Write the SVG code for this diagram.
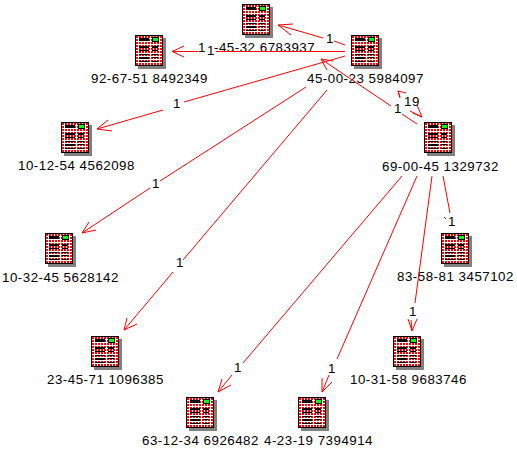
<svg xmlns="http://www.w3.org/2000/svg" width="517" height="450" viewBox="0 0 517 450">
<style>
text{font-family:"Liberation Sans",Arial,sans-serif;font-size:13.33px;letter-spacing:.5px;fill:#000}
.e{fill:none;stroke:#f00;stroke-width:1}
.da{fill:none;stroke:#f00;stroke-width:2;stroke-dasharray:2 1;shape-rendering:crispEdges}
</style>
<defs>
<g id="icon">
<rect x="3" y="3" width="28" height="31" fill="#808080"/>
<rect x="0" y="0" width="28" height="31" fill="#000"/>
<rect x="1" y="1" width="26" height="29" fill="#fff"/>
<path class="da" d="M1 2H27M1 5H27M1 8H27M1 11H27M1 14H27M1 17H27M1 20H27M1 23H27M1 26H27M1 29H27"/>
<rect x="4" y="3" width="10" height="3" fill="#000"/>
<rect x="17" y="2" width="7" height="5" fill="#000"/>
<rect x="18" y="3" width="5" height="3" fill="#0f0"/>
<rect x="4" y="11" width="10" height="2" fill="#000"/><rect x="17" y="11" width="6" height="2" fill="#000"/>
<rect x="4" y="15" width="10" height="1" fill="#000"/><rect x="17" y="15" width="6" height="1" fill="#000"/>
<rect x="4" y="19" width="10" height="1" fill="#000"/><rect x="17" y="19" width="6" height="1" fill="#000"/>
<rect x="4" y="22" width="10" height="2" fill="#000"/><rect x="17" y="22" width="6" height="1" fill="#000"/>
<rect x="4" y="26" width="10" height="1" fill="#000"/><rect x="17" y="26" width="6" height="1" fill="#000"/>
</g>
</defs>
<g id="node-11-45-32"><use href="#icon" x="242" y="4"/><text x="198" y="52">1<tspan x="214">-45-32 6783937</tspan></text></g>
<g id="node-92-67-51"><use href="#icon" x="135" y="35"/><text x="91" y="83">92-67-51 8492349</text></g>
<g id="node-45-00-23"><use href="#icon" x="351" y="35"/><text x="307" y="83">45-00-23 5984097</text></g>
<g id="node-69-00-45"><use href="#icon" x="424" y="122"/><text x="382" y="171">69-00-45 1329732</text></g>
<g id="node-10-12-54"><use href="#icon" x="61" y="122"/><text x="18" y="170">10-12-54 4562098</text></g>
<g id="node-10-32-45"><use href="#icon" x="45" y="233"/><text x="2" y="282">10-32-45 5628142</text></g>
<g id="node-83-58-81"><use href="#icon" x="441" y="233"/><text x="397" y="281">83-58-81 3457102</text></g>
<g id="node-23-45-71"><use href="#icon" x="91" y="336"/><text x="47" y="384">23-45-71 1096385</text></g>
<g id="node-10-31-58"><use href="#icon" x="393" y="336"/><text x="350" y="384">10-31-58 9683746</text></g>
<g id="node-63-12-34"><use href="#icon" x="186" y="397"/><text x="142" y="445">63-12-34 6926482</text></g>
<g id="node-4-23-19"><use href="#icon" x="298" y="397"/><text x="264" y="445">4-23-19 7394914</text></g>
<g id="connectors">
<path class="e" d="M345 45L334 41M323 38L278 25M293 24L278 25L291 35"/>
<path class="e" d="M345 51.5H216M198 51.5H172M184 46L172 51.5L184 57"/>
<path class="e" d="M345 56L184 102M163 110L97 129M108 120L97 129L112 131"/>
<path class="e" d="M306 87L160 181M150 188L82 233M89 222L82 233L96 230"/>
<path class="e" d="M327 90L183 260M173 272L124 330M127 318L124 330L137 324"/>
<path class="e" d="M417 124L402 114M391 106L321 59M333 61L321 59L327 70"/>
<path class="e" d="M400 97L398 91M406 93L398 91L400 98M413 113L422 117M410 111L422 117L417 105"/>
<path class="e" d="M402 176L243 363M232 375L218 392M222 379L218 392L231 385"/>
<path class="e" d="M417 176L337 359M329 375L322 392M322 378L322 392L332 382"/>
<path class="e" d="M432 176L415 303M411 320L412 331M408 319L412 331L417 319"/>
<path class="e" d="M443 176L450 213M444 217L446 219"/>
</g>
<g id="edge-labels">
<text x="326" y="43">1</text>
<text x="207" y="55">1</text>
<text x="173" y="108">1</text>
<text x="152" y="188">1</text>
<text x="176" y="267">1</text>
<text x="394" y="113">1</text>
<text x="404" y="106">19</text>
<text x="234" y="372">1</text>
<text x="328" y="373">1</text>
<text x="409" y="316">1</text>
<text x="448" y="226">1</text>
</g>
</svg>
